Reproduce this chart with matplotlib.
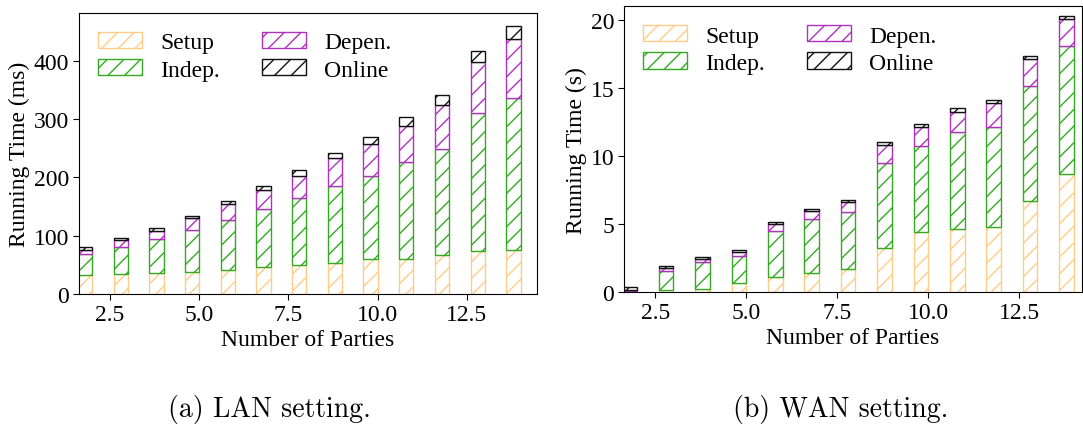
import matplotlib
matplotlib.use("Agg")
import matplotlib.pyplot as plt
import numpy as np

parties = list(range(2, 15))
series = ["Setup", "Indep.", "Depen.", "Online"]

# LAN (ms) - segment heights
lan_setup  = [32.6, 34.3, 35.5, 37.2, 41.8, 46.4, 50.4, 52.6, 59.5, 60.7, 67.0, 73.2, 76.1]
lan_indep  = [36.1, 47.0, 58.3, 72.1, 85.8, 99.5, 115.0, 133.4, 143.6, 165.3, 181.9, 237.0, 259.8]
lan_depen  = [7.3, 12.0, 14.9, 20.6, 26.3, 32.1, 37.7, 46.9, 54.4, 61.8, 75.6, 87.5, 101.9]
lan_online = [4.0, 2.3, 4.0, 4.6, 6.3, 8.0, 10.3, 9.7, 12.6, 16.1, 17.7, 18.9, 21.1]

# WAN (s)
wan_setup  = [0.02, 0.15, 0.24, 0.66, 1.10, 1.40, 1.71, 3.23, 4.46, 4.65, 4.80, 6.68, 8.69]
wan_indep  = [0.10, 1.44, 1.96, 1.98, 3.43, 3.99, 4.17, 6.24, 6.26, 7.10, 7.37, 8.50, 9.38]
wan_depen  = [0.04, 0.17, 0.25, 0.30, 0.49, 0.58, 0.73, 1.37, 1.45, 1.52, 1.71, 1.96, 2.00]
wan_online = [0.20, 0.15, 0.17, 0.17, 0.15, 0.17, 0.15, 0.23, 0.17, 0.24, 0.27, 0.24, 0.25]

colors = ["#FFCC88", "#33AA22", "#B030C0", "#111111"]

plt.rcParams["font.family"] = ["Liberation Serif", "DejaVu Serif"]
plt.rcParams["hatch.linewidth"] = 1.0

FS = 17

fig = plt.figure(figsize=(10.83, 4.31), dpi=100)
ax1 = fig.add_axes([0.0729, 0.3155, 0.4229, 0.652])
ax2 = fig.add_axes([0.5762, 0.3195, 0.4229, 0.6636])

def draw(ax, data, ylabel, ylim, yticks):
    x = np.array(parties, dtype=float) - 0.2
    bottom = np.zeros(len(parties))
    for name, vals, c in zip(series, data, colors):
        ax.bar(x, vals, width=0.4, bottom=bottom, facecolor="white",
               edgecolor=c, hatch="//", linewidth=1.0, label=name)
        bottom = bottom + np.array(vals)
    ax.set_ylim(*ylim)
    ax.set_yticks(yticks)
    ax.set_xticks([2.5, 5.0, 7.5, 10.0, 12.5])
    ax.set_xticklabels(["2.5", "5.0", "7.5", "10.0", "12.5"])
    ax.tick_params(labelsize=FS, length=4, pad=3)
    ax.set_xlabel("Number of Parties", fontsize=FS, labelpad=3)
    ax.set_ylabel(ylabel, fontsize=FS, labelpad=3)
    ax.legend(ncol=2, loc="upper left", fontsize=FS, frameon=False,
              handlelength=1.87, handleheight=0.68, columnspacing=1.8,
              borderaxespad=0.4, borderpad=0.4, labelspacing=0.25,
              handletextpad=0.76)

draw(ax1, [lan_setup, lan_indep, lan_depen, lan_online],
     "Running Time (ms)", (0, 482), [0, 100, 200, 300, 400])
ax1.set_xlim(1.63, 14.46)
draw(ax2, [wan_setup, wan_indep, wan_depen, wan_online],
     "Running Time (s)", (0, 21.0), [0, 5, 10, 15, 20])
ax2.set_xlim(1.64, 14.23)

fig.text(0.249, 0.049, "(a) LAN setting.", fontsize=20, family="cmr10",
         ha="center", va="center")
fig.text(0.776, 0.049, "(b) WAN setting.", fontsize=20, family="cmr10",
         ha="center", va="center")

fig.savefig("out.png", dpi=100)
